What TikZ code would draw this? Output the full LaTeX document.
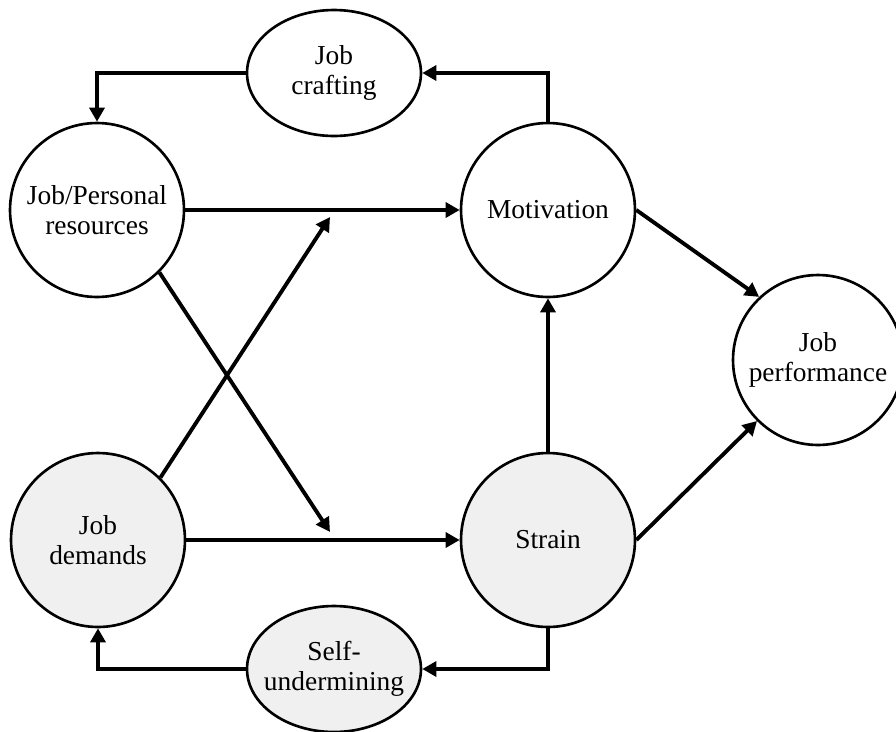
\documentclass[tikz,border=0pt]{standalone}
\usepackage{fontspec}
\setmainfont{Liberation Serif}
\usetikzlibrary{arrows.meta,shapes}
\tikzset{var/.style={circle, draw, line width=1.5pt,
         minimum size=3.48cm, inner sep=0pt, align=center,
         font=\fontsize{15.6}{17}\selectfont},
         fbk/.style={ellipse, draw, line width=1.5pt,
         minimum width=3.48cm, minimum height=2.52cm,
         inner xsep=-6pt, inner ysep=0pt, align=center,
         font=\fontsize{15.6}{17}\selectfont},
         negfill/.style={fill=black!6},
         link/.style={line width=2.2pt, -{Triangle[length=8pt,width=8.5pt]}}}

\begin{document}
\begin{tikzpicture}[x=0.02cm, y=-0.02cm]
      \useasboundingbox (0,0) rectangle (896,731);

      % variables
      \node[var] (res) at (97,210) {Job/Personal\\resources};
      \node[var] (mot) at (548,210) {Motivation};
      \node[var, negfill] (dem) at (98,540) {Job\\demands};
      \node[var, negfill] (str) at (548,540) {Strain};
      \node[var, minimum size=3.4cm] (perf) at (818,360) {Job\\performance};

      % feedback loops
      \node[fbk] (craft) at (334,73) {Job\\crafting};
      \node[fbk, negfill] (und) at (334,669) {Self-\\undermining};

      \coordinate (resend) at (330,532);
      \coordinate (demend) at (330,217);

      \draw[link] (res.east) -- (mot.west);
      \draw[link] (dem.east) -- (str.west);
      \draw[link] (dem.45) -- (demend);
      \draw[link] (res.-45) -- (resend);
      \draw[link] (str.north) -- (mot.south);
      \draw[link] (mot.east) -- (perf.133);
      \draw[link] (str.east) -- (perf.225);
      \draw[link] (mot.north) |- (craft.east);
      \draw[link] (craft.west) -| (res.north);
      \draw[link] (str.south) |- (und.east);
      \draw[link] (und.west) -| (dem.south);
    \end{tikzpicture}
\end{document}
